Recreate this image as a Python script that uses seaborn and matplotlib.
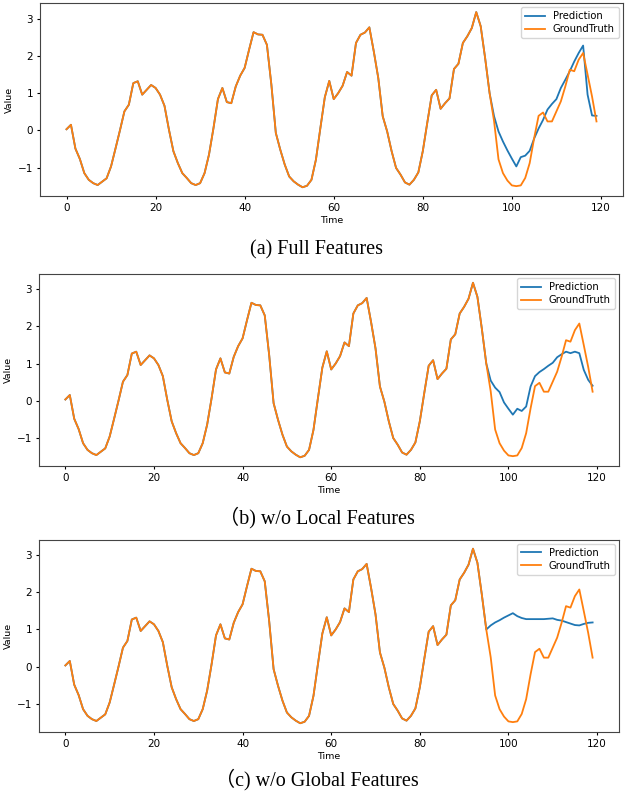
import numpy as np
import pandas as pd
import matplotlib
matplotlib.use("Agg")
import matplotlib.pyplot as plt
import seaborn as sns

# input window (t = 0..95), shared by every panel
history = [
    0.03, 0.15, -0.49, -0.77, -1.15, -1.33, -1.42, -1.47, -1.38, -1.29,
    -0.97, -0.49, 0.00, 0.51, 0.69, 1.27, 1.32, 0.96, 1.09, 1.22,
    1.14, 0.96, 0.66, 0.02, -0.56, -0.88, -1.15, -1.28, -1.42, -1.47,
    -1.42, -1.15, -0.65, 0.06, 0.84, 1.14, 0.76, 0.73, 1.18, 1.47,
    1.68, 2.17, 2.64, 2.58, 2.57, 2.30, 1.23, -0.07, -0.52, -0.92,
    -1.24, -1.37, -1.46, -1.53, -1.49, -1.33, -0.79, 0.06, 0.89, 1.33,
    0.84, 1.00, 1.20, 1.57, 1.47, 2.35, 2.57, 2.63, 2.77, 2.12,
    1.41, 0.38, -0.03, -0.56, -1.01, -1.19, -1.40, -1.46, -1.33, -1.13,
    -0.56, 0.20, 0.94, 1.09, 0.58, 0.73, 0.86, 1.65, 1.79, 2.35,
    2.53, 2.75, 3.18, 2.80, 1.94, 1.00,
]

# ground truth of the forecast horizon (t = 96..119)
future_true = [
    0.25, -0.78, -1.15, -1.35, -1.48, -1.50, -1.48, -1.28, -0.88, -0.21,
    0.39, 0.48, 0.24, 0.24, 0.51, 0.78, 1.18, 1.63, 1.59, 1.90,
    2.08, 1.50, 0.91, 0.24,
]

# model forecasts (t = 96..119)
pred_full = [
    0.38, -0.03, -0.30, -0.54, -0.76, -0.97, -0.72, -0.68, -0.55, -0.22,
    0.05, 0.28, 0.56, 0.71, 0.84, 1.14, 1.36, 1.59, 1.85, 2.08,
    2.28, 0.96, 0.40, 0.39,
]
pred_no_local = [
    0.54, 0.35, 0.23, -0.05, -0.22, -0.38, -0.22, -0.28, -0.16, 0.38,
    0.66, 0.77, 0.85, 0.94, 1.02, 1.17, 1.25, 1.32, 1.28, 1.32,
    1.28, 0.83, 0.56, 0.40,
]
pred_no_global = [
    1.11, 1.19, 1.25, 1.32, 1.38, 1.44, 1.36, 1.31, 1.28, 1.28,
    1.28, 1.28, 1.28, 1.29, 1.30, 1.26, 1.24, 1.20, 1.16, 1.12,
    1.11, 1.15, 1.18, 1.19,
]

captions = ["(a) Full Features", "\uff08b) w/o Local Features", "\uff08c) w/o Global Features"]
predictions = [pred_full, pred_no_local, pred_no_global]

plt.rcParams.update({
    "font.family": ["DejaVu Sans"],
    "xtick.labelsize": 7.5,
    "ytick.labelsize": 7.5,
    "axes.labelsize": 6.8,
    "xtick.major.size": 2.5,
    "ytick.major.size": 2.5,
    "xtick.major.pad": 2.5,
    "ytick.major.pad": 2.5,
    "axes.edgecolor": "#444444",
    "axes.linewidth": 0.8,
})

fig = plt.figure(figsize=(6.27, 7.92), dpi=100)
boxes = [
    [0.0638, 0.7525, 0.9298, 0.2433],
    [0.0622, 0.4116, 0.9250, 0.2424],
    [0.0622, 0.0758, 0.9250, 0.2424],
]
# caption baselines
caption_y = [0.6793, 0.3396, 0.0088]

truth = np.array(history + future_true)
time = np.arange(len(truth))

for box, pred, cap, cy in zip(boxes, predictions, captions, caption_y):
    ax = fig.add_axes(box)
    # same as the usual visual(): prediction = input window + forecast
    full_pred = np.array(history + pred)
    df = pd.DataFrame({"Time": time, "Prediction": full_pred, "GroundTruth": truth})
    sns.lineplot(data=df, x="Time", y="Prediction", ax=ax, color="#1f77b4",
                 linewidth=1.3, label="Prediction")
    sns.lineplot(data=df, x="Time", y="GroundTruth", ax=ax, color="#ff7f0e",
                 linewidth=1.3, label="GroundTruth")
    ax.set_xlabel("Time", labelpad=2)
    ax.set_ylabel("Value", labelpad=3)
    ax.set_xticks([0, 20, 40, 60, 80, 100, 120])
    ax.set_yticks([-1, 0, 1, 2, 3])
    ax.legend(loc="upper right", fontsize=7.2, borderaxespad=0.4,
              handlelength=2.0, labelspacing=0.3)
    fig.text(0.505, cy, cap, ha="center", va="baseline", fontsize=14.5,
             family=["Liberation Serif", "Noto Sans CJK SC"])

fig.savefig("out.png", dpi=100)
